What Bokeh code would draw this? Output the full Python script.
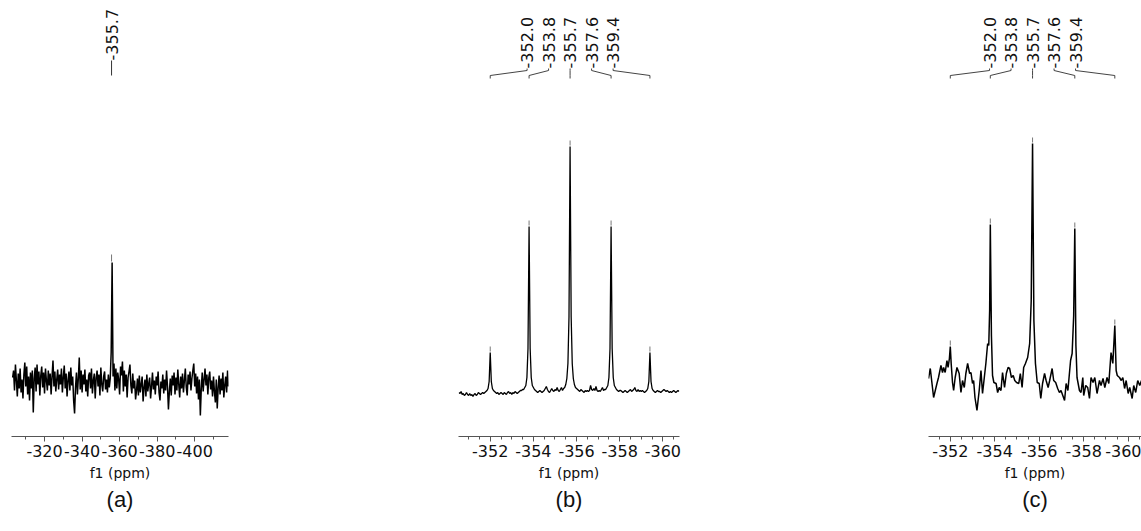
import numpy as np
from bokeh.plotting import figure
from bokeh.layouts import row
from bokeh.models import Range1d, SingleIntervalTicker, Title, CustomJSTickFormatter
from bokeh.embed import file_html
from bokeh.resources import INLINE
from bokeh.core.properties import value

# ---------------- data ----------------
# Panel (a): wide sweep, sampled every 0.5 ppm starting at -303 ppm
a_ppm_first = -303.0
a_ppm_step = 0.5
a_intensity = [
    5, 12, -8, 18, 2, -14, 9, -6, 14, -10,
    3, -16, 8, 20, -4, 16, -12, 6, -18, 10,
    -6, 12, -30, 4, 15, -9, 18, -2, 11, -13,
    7, 16, -5, 10, -11, 14, 2, -8, 12, -3,
    9, -12, 6, 22, -4, 11, -9, 3, 13, -7,
    8, -2, 14, -10, 5, 17, -6, 9, -14, 2,
    11, -8, 15, -3, 6, -18, -31, -5, 10, -12,
    4, 25, -7, 12, -10, 8, -2, 13, -9, 3,
    -14, 7, 10, -6, 14, -11, 2, 9, -16, 5,
    12, -4, 8, -13, 15, -2, -9, 6, 11, -7,
    3, -10, 8, -5, 4, 30, 120, 6, 19, -8,
    14, -6, 10, 3, -12, 16, 7, 21, -9, 12,
    -4, 8, -15, 5, 11, 18, -3, -11, 9, -6,
    2, -17, -8, 4, -13, 7, -10, -2, 6, -19,
    -5, 3, -14, 8, -9, -1, 5, -16, -4, 10,
    -7, 2, -12, 6, -3, 11, -10, -18, 1, -6,
    8, -11, 3, -8, 12, -4, -27, -9, 4, -13,
    7, -3, 10, -12, 5, -8, 13, -2, -15, 6,
    -6, 9, -10, 2, 14, -5, -13, 8, -2, 11,
    -8, 4, 12, 19, -4, 9, -11, 6, -17, 3,
    -33, -6, 10, -9, 3, 14, -3, 8, -12, 5,
    11, -7, 2, -14, 6, -9, -20, 3, -26, -5,
    7, -12, 4, -8, 10, -15, -3, 6, -10, 12, -4,
]
a_peak_labels = [-355.7]

# Panel (b): sampled every 0.05 ppm starting at -350.55 ppm
b_ppm_first = -350.55
b_ppm_step = 0.05
b_intensity = [
    -1, -2, 0, -3, -2, -4, -3, -1, -3, -4,
    -2, -4, -3, -5, -3, -2, -4, -3, -1, -2,
    -3, -2, -1, -2, -1, 0, 1, 3, 10, 39,
    10, 3, 1, 0, -1, -2, -1, -3, -2, -1,
    -2, -3, -1, -2, -3, -1, 0, -2, -1, -3,
    -1, -2, 0, -1, -2, -1, 0, 1, 1, 2,
    2, 4, 6, 14, 43, 165, 43, 14, 6, 4,
    2, 1, 0, -1, 0, 1, 0, -1, 0, 1,
    3, 5, 2, 0, -1, 1, 3, 1, 0, 2,
    1, 4, 1, 0, 2, 4, 1, 3, 4, 7,
    13, 28, 75, 245, 75, 28, 13, 7, 4, 3,
    2, 1, 0, 2, 1, 0, -1, 1, 0, 1,
    0, 1, 6, 2, 1, 3, 1, 5, 1, 0,
    1, 0, 2, 4, 1, 2, 2, 4, 6, 14,
    43, 165, 43, 14, 6, 4, 2, 1, 0, 1,
    1, 0, -1, 0, 1, 0, -1, 0, 1, 2,
    0, 1, 2, 4, 1, 0, 2, 0, 1, 0,
    1, 0, -1, 0, 1, 3, 10, 39, 10, 3,
    1, 0, -1, 0, 1, 0, 0, -1, 0, 1,
    2, 1, 0, 1, 0, -1, 0, -1, 0, 1,
    0, -1, 0, 1, 0,
]
b_peak_labels = [-352.0, -353.8, -355.7, -357.6, -359.4]

# Panel (c): read vertex by vertex
c_ppm = [
    -351.02, -351.10, -351.25, -351.40, -351.47, -351.58, -351.65, -351.70, -351.77, -351.85,
    -351.90, -351.96, -352.00, -352.04, -352.10, -352.15, -352.22, -352.30, -352.40, -352.48,
    -352.55, -352.63, -352.70, -352.78, -352.87, -352.93, -353.00, -353.05, -353.11, -353.20,
    -353.30, -353.38, -353.45, -353.53, -353.60, -353.68, -353.73, -353.77, -353.80, -353.85,
    -353.90, -353.96, -354.06, -354.13, -354.20, -354.28, -354.35, -354.44, -354.52, -354.60,
    -354.67, -354.75, -354.83, -354.90, -354.98, -355.08, -355.15, -355.23, -355.30, -355.38,
    -355.48, -355.57, -355.64, -355.70, -355.76, -355.83, -355.91, -356.00, -356.07, -356.15,
    -356.24, -356.31, -356.40, -356.47, -356.58, -356.65, -356.74, -356.83, -356.91, -356.98,
    -357.14, -357.21, -357.29, -357.41, -357.48, -357.55, -357.60, -357.65, -357.70, -357.81,
    -357.88, -357.96, -358.00, -358.09, -358.18, -358.26, -358.33, -358.42, -358.50, -358.60,
    -358.71, -358.78, -358.87, -358.95, -359.05, -359.13, -359.23, -359.31, -359.40, -359.46,
    -359.51, -359.61, -359.69, -359.76, -359.84, -359.91, -360.00, -360.07, -360.18, -360.25,
    -360.34, -360.43, -360.52, -360.60, -360.70,
]
c_intensity = [
    2, 12, -17, -3, 3, 15, 8, 13, 8, 20,
    13, 22, 34, 17, -2, -10, 3, 13, 7, -12,
    0, -7, 7, 17, 7, 8, -3, 0, -17, -30,
    -10, 10, -13, 3, 17, 37, 35, 70, 156, 45,
    5, -2, -3, -12, -7, -10, 8, -7, 7, 13,
    12, 3, 5, 0, -2, -3, 7, -7, 13, 17,
    23, 37, 80, 237, 60, 17, -2, -3, -18, -3,
    7, 0, -7, 0, 12, 0, -2, -8, -12, -10,
    -20, -3, -10, 20, 27, 65, 152, 35, 3, -10,
    -12, 3, -15, -5, -7, -18, 3, -2, 3, -13,
    0, -5, 2, -7, 3, -3, 28, 17, 55, 10,
    5, 3, 0, 3, -8, 0, -13, -7, -18, -5,
    -12, 0, -5, 0, -6,
]
c_peak_labels = [-352.0, -353.8, -355.7, -357.6, -359.4]

panel_names = ["(a)", "(b)", "(c)"]
axis_title = "f1 (ppm)"

a_ppm = a_ppm_first - a_ppm_step * np.arange(len(a_intensity))
b_ppm = b_ppm_first - b_ppm_step * np.arange(len(b_intensity))

# ---------------- layout ----------------
H = 531
FRAME_H = 436
FONT = "DejaVu Sans"


def panel(ppm, inten, peaks, name, x_start, x_end, base_px, width, left, right,
          tick_int, n_minor, line_w, search, tick_len):
    ppm = np.asarray(ppm, dtype=float)
    inten = np.asarray(inten, dtype=float)
    p = figure(width=width, height=H,
               x_range=Range1d(x_start, x_end),
               y_range=Range1d(base_px - FRAME_H, base_px),
               output_backend="svg", toolbar_location=None,
               min_border_left=left, min_border_right=right,
               min_border_top=0, min_border_bottom=H - FRAME_H,
               y_axis_location=None)
    p.grid.visible = False
    p.outline_line_color = None
    p.background_fill_color = "white"
    p.border_fill_color = "white"

    ax = p.xaxis[0]
    ax.ticker = SingleIntervalTicker(interval=tick_int, num_minor_ticks=n_minor)
    ax.formatter = CustomJSTickFormatter(code="return tick.toFixed(0);")
    ax.axis_line_color = "#555555"
    ax.major_tick_line_color = "#555555"
    ax.minor_tick_line_color = "#555555"
    ax.major_tick_in = 0
    ax.major_tick_out = 5
    ax.minor_tick_in = 0
    ax.minor_tick_out = 3
    ax.major_label_standoff = 3
    ax.major_label_text_font = FONT
    ax.major_label_text_font_size = "16px"
    ax.major_label_text_color = "#111111"
    ax.axis_label = axis_title
    ax.axis_label_standoff = 5
    ax.axis_label_text_font = FONT
    ax.axis_label_text_font_size = "14px"
    ax.axis_label_text_font_style = "normal"
    ax.axis_label_text_color = "#111111"

    p.add_layout(Title(text=name, align="center", text_font="Liberation Sans",
                       text_font_size="22px", text_font_style="normal",
                       text_color="#111111", standoff=2), "below")

    # spectrum
    p.line(ppm, inten, line_color="black", line_width=line_w)

    # peak heights from the data
    heights = []
    for pk in peaks:
        sel = np.abs(ppm - pk) <= search
        heights.append(inten[sel].max())
    heights = np.array(heights)
    peaks = np.asarray(peaks)

    # little pick marks above each peak
    p.segment(x0=peaks, y0=heights + 1, x1=peaks, y1=heights + tick_len,
              line_color="#777777", line_width=1)

    labels = ["%.1f" % v for v in peaks]
    n = len(peaks)
    if n == 1:
        y_text = base_px - 60
        p.text(x=peaks, y=[y_text], text=labels, angle=np.pi / 2,
               text_align="left", text_baseline="middle",
               text_font=value(FONT), text_font_size="16px", text_color="#111111")
        p.multi_line(xs=[[peaks[0], peaks[0]]], ys=[[y_text, base_px - 75]],
                     line_color="#333333", line_width=1)
    else:
        frame_w = width - left - right
        px_per_ppm = frame_w / abs(x_end - x_start)
        spacing = 21.5 / px_per_ppm
        mid = n // 2
        lx = np.array([peaks[mid] - (k - mid) * spacing for k in range(n)])
        y_text = base_px - 68
        p.text(x=lx, y=[y_text] * n, text=labels, angle=np.pi / 2,
               text_align="left", text_baseline="middle",
               text_font=value(FONT), text_font_size="16px", text_color="#111111")
        xs = [[lx[k], lx[k], peaks[k], peaks[k]] for k in range(n)]
        ys = [[y_text, base_px - 70, base_px - 75, base_px - 78] for _ in range(n)]
        p.multi_line(xs=xs, ys=ys, line_color="#444444", line_width=1)
    return p


pa = panel(a_ppm, a_intensity, a_peak_labels, panel_names[0],
           -302.4, -418.0, 382, 240, 11, 12, 20, 2, 1.5, 1.0, 8)
pb = panel(b_ppm, b_intensity, b_peak_labels, panel_names[1],
           -350.53, -360.77, 391, 460, 218, 21, 2, 4, 1.3, 0.1, 6)
pc = panel(c_ppm, c_intensity, c_peak_labels, panel_names[2],
           -351.02, -360.6, 380, 441, 228, 0, 2, 4, 1.5, 0.1, 6)

layout = row(pa, pb, pc, spacing=0)
open("out.html", "w").write(file_html(layout, INLINE))
